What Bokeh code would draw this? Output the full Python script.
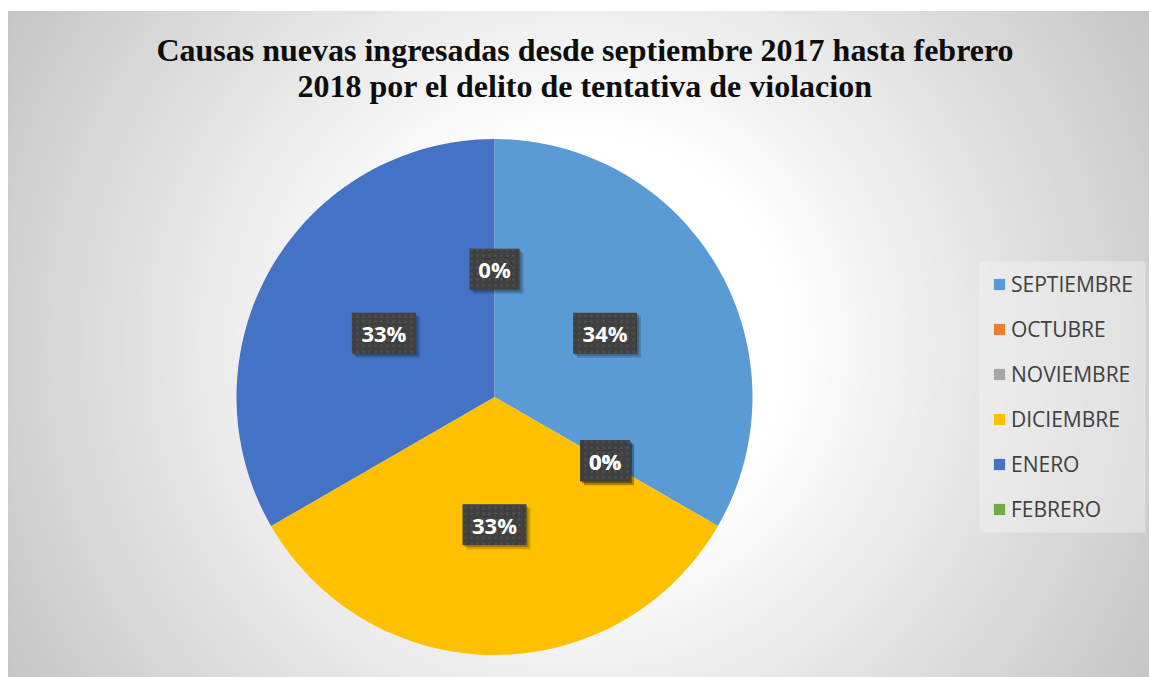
import numpy as np
from bokeh.plotting import figure
from bokeh.models import ColumnDataSource, Range1d, Legend, LegendItem
from bokeh.core.properties import value
from bokeh.embed import file_html
from bokeh.resources import INLINE

# ---- data ----
months = ["SEPTIEMBRE", "OCTUBRE", "NOVIEMBRE", "DICIEMBRE", "ENERO", "FEBRERO"]
counts = [1, 0, 0, 1, 1, 0]
pct_labels = ["34%", "0%", "0%", "33%", "33%", "0%"]
colors = ["#5B9BD5", "#ED7D31", "#A5A5A5", "#FFC000", "#4472C4", "#70AD47"]
title_lines = ["Causas nuevas ingresadas desde septiembre 2017 hasta febrero",
               "2018 por el delito de tentativa de violacion"]

# ---- layout (data units == screen pixels, y negated) ----
W, H = 1149, 677
LEFT, TOP = 8, 11
p = figure(width=W, height=H, output_backend="svg", toolbar_location=None, title=None,
           x_range=Range1d(LEFT, W), y_range=Range1d(-H, -TOP),
           x_axis_location=None, y_axis_location=None,
           min_border_left=LEFT, min_border_right=0, min_border_bottom=0, min_border_top=TOP,
           background_fill_color="#c6c6c6", border_fill_color="white",
           outline_line_color="#c4c4c4", outline_line_width=1)
p.grid.visible = False

# radial gradient background (white core -> gray corners)
gcx, gcy = 578.5, -344.0
g_r = np.hypot(570.5, 333.0)
ts = np.linspace(1.0, 0.31, 70)
grays = [int(round(255 - (t - 0.31) / 0.69 * 57)) for t in ts]
gcol = ["#%02x%02x%02x" % (g, g, g) for g in grays]
p.circle(x=[gcx] * len(ts), y=[gcy] * len(ts), radius=list(ts * g_r),
         fill_color=gcol, line_color=None)

# pie
PCX, PCY, R = 494.0, -396.5, 258.0
vals = np.array(counts, dtype=float)
frac = vals / vals.sum()
cum = np.concatenate([[0.0], np.cumsum(frac)])
start = np.pi / 2 - cum[:-1] * 2 * np.pi
end = np.pi / 2 - cum[1:] * 2 * np.pi
mid = (start + end) / 2
radius = np.where(vals > 0, R, 0.0)
src = ColumnDataSource(dict(month=months, start=start, end=end, color=colors, r=radius))
wr = p.wedge(x=PCX, y=PCY, radius="r", start_angle="start", end_angle="end",
             direction="clock", fill_color="color", line_color=None, source=src)

# data labels
LR = 0.495 * R
lx = PCX + LR * np.cos(mid)
ly = PCY + LR * np.sin(mid)
bw = [22 + 14 * len(s) for s in pct_labels]
lsrc = ColumnDataSource(dict(x=lx, y=ly, w=bw, t=pct_labels,
                             xs=lx + 4, ys=ly - 4, xs2=lx + 2, ys2=ly - 2))
p.rect(x="xs", y="ys", width="w", height=41, fill_color="black", fill_alpha=0.16,
       line_color=None, source=lsrc)
p.rect(x="xs2", y="ys2", width="w", height=41, fill_color="black", fill_alpha=0.2,
       line_color=None, source=lsrc)
p.rect(x="x", y="y", width="w", height=41, fill_color="#404040", line_color=None,
       hatch_pattern="dot", hatch_color="#4d4d4d", hatch_scale=6, hatch_weight=1,
       source=lsrc)
p.text(x="x", y="y", text="t", text_align="center", text_baseline="middle",
       text_font=value("Open Sans"), text_font_style="bold", text_font_size="22px",
       text_color="white", source=lsrc)

# title
p.text(x=[584.5, 584.5], y=[-49, -85], text=title_lines, text_align="center",
       text_baseline="alphabetic", text_font=value("Liberation Serif"),
       text_font_style="bold", text_font_size="32px", text_color="#0d0d0d")

# legend background box
p.rect(x=[1062], y=[-396.5], width=166, height=271, fill_color="#f4f4f4",
       fill_alpha=0.45, line_color=None)

# legend
items = [LegendItem(label=m, renderers=[wr], index=i) for i, m in enumerate(months)]
legend = Legend(items=items, location=(992 - LEFT, H - 524), orientation="vertical",
                label_text_font="Open Sans", label_text_font_size="21px",
                label_text_color="#404040", glyph_width=14, glyph_height=14,
                label_standoff=5, spacing=15, padding=0, label_height=30,
                background_fill_alpha=0.0, border_line_color=None, margin=0)
p.add_layout(legend)

open("out.html", "w").write(file_html(p, INLINE))
